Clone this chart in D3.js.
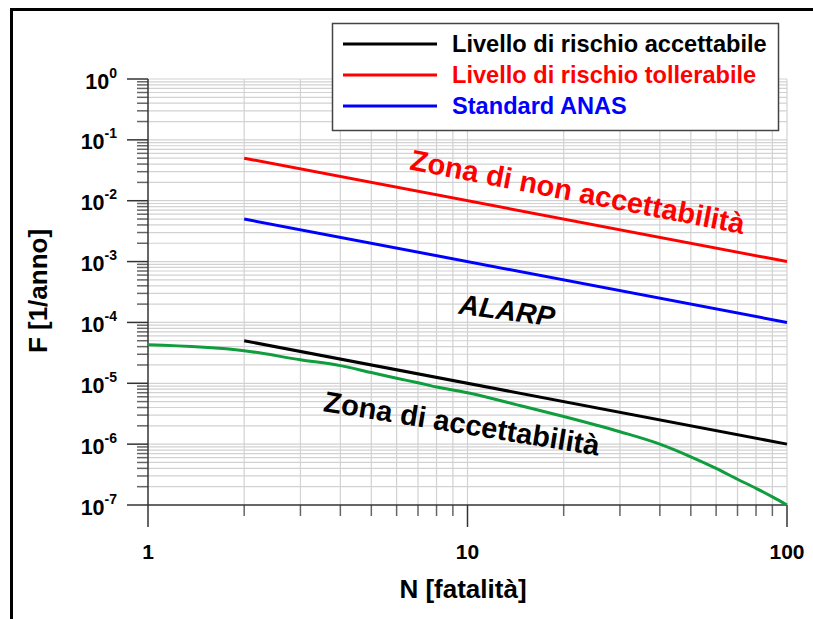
<!DOCTYPE html>
<html><head><meta charset="utf-8">
<script src="https://cdn.jsdelivr.net/npm/d3@7"></script>
<style>body{margin:0;background:#fff}svg{display:block}text{font-family:"Liberation Sans",Arial,sans-serif;font-weight:bold}</style>
</head><body>
<svg id="c" width="813" height="619"></svg>
<script>
// ---- data ----
const seriesNames = ["Livello di rischio accettabile","Livello di rischio tollerabile","Standard ANAS"];
const seriesColors = ["#000000","#ff0000","#0000ff"];
const criterionN = [2, 100];
const acceptableF = [5e-5, 1e-6];
const tolerableF = [5e-2, 1e-3];
const anasF = [5e-3, 1e-4];
const curveN = [1,2,3,4,5,6,7,8,10,15,20,30,40,50,60,70,80,90,100];
const curveF = [4.3e-5,3.43e-5,2.44e-5,1.95e-5,1.5e-5,1.21e-5,1.02e-5,8.7e-6,7.0e-6,4.15e-6,2.85e-6,1.6e-6,1.0e-6,6.2e-7,4.0e-7,2.65e-7,1.88e-7,1.36e-7,1.0e-7];
const xTickLabels = ["1","10","100"];
const xTickValues = [1,10,100];
const yTickExponents = [0,-1,-2,-3,-4,-5,-6,-7];
const annotations = [
  {text:"Zona di non accettabilità", N:6.55, F:0.033, angle:11, color:"#ff0000", size:29, italic:false},
  {text:"ALARP", N:9.34, F:1.4e-4, angle:7.7, color:"#000000", size:28, italic:true},
  {text:"Zona di accettabilità", N:3.52, F:3.5e-6, angle:9.2, color:"#000000", size:29, italic:false}
];
const xTitle = "N [fatalità]";
const yTitle = "F [1/anno]";

// ---- chart ----
const svg = d3.select("#c");
const x = d3.scaleLog().domain([1,100]).range([148,787]);
const y = d3.scaleLog().domain([1e-7,1]).range([505,79]);

// frame
svg.append("path").attr("d","M11.5,619 L11.5,9.5 L813,9.5").attr("fill","none").attr("stroke","#000").attr("stroke-width",3);

const xAll = x.ticks();
const yAll = y.ticks();
const g = svg.append("g");
// grid
g.selectAll(".vg").data(xAll.filter(d=>d>1)).enter().append("line")
  .attr("x1",d=>x(d)).attr("x2",d=>x(d)).attr("y1",y(1)).attr("y2",y(1e-7))
  .attr("stroke","#d2d2d2").attr("stroke-width",1.2);
g.selectAll(".hg").data(yAll.filter(d=>d>1e-7)).enter().append("line")
  .attr("y1",d=>y(d)).attr("y2",d=>y(d)).attr("x1",x(1)).attr("x2",x(100))
  .attr("stroke","#d2d2d2").attr("stroke-width",1.2);

// ticks
const isMajor = v => Math.abs(Math.log10(v)-Math.round(Math.log10(v)))<1e-6;
g.selectAll(".yt").data(yAll).enter().append("line")
  .attr("y1",d=>y(d)).attr("y2",d=>y(d)).attr("x1",d=>isMajor(d)?127:137).attr("x2",x(1))
  .attr("stroke",d=>isMajor(d)?"#333":"#666").attr("stroke-width",1.5);
g.selectAll(".xt").data(xAll).enter().append("line")
  .attr("x1",d=>x(d)).attr("x2",d=>x(d)).attr("y1",y(1e-7)).attr("y2",d=>isMajor(d)?527:516)
  .attr("stroke",d=>isMajor(d)?"#333":"#666").attr("stroke-width",1.5);
// axis lines
g.append("line").attr("x1",x(1)).attr("x2",x(1)).attr("y1",y(1)).attr("y2",y(1e-7)).attr("stroke","#333").attr("stroke-width",1.5);
g.append("line").attr("x1",x(1)).attr("x2",x(100)).attr("y1",y(1e-7)).attr("y2",y(1e-7)).attr("stroke","#333").attr("stroke-width",1.5);

// tick labels
const yl = g.selectAll(".yl").data(yTickExponents).enter().append("text")
  .attr("x",117).attr("y",d=>y(Math.pow(10,d))+9.5).attr("text-anchor","end").attr("fill","#000");
yl.append("tspan").attr("font-size",21.5).text("10");
yl.append("tspan").attr("font-size",14).attr("dy",-11).text(d=>String(d));
g.selectAll(".xl").data(xTickValues).enter().append("text")
  .attr("x",d=>x(d)).attr("y",559).attr("text-anchor","middle").attr("font-size",21).text((d,i)=>xTickLabels[i]);

// titles
svg.append("text").attr("x",463).attr("y",598).attr("text-anchor","middle").attr("font-size",26).text(xTitle);
svg.append("text").attr("transform","translate(47,291) rotate(-90)").attr("text-anchor","middle").attr("font-size",26).text(yTitle);

// lines
const line = d3.line().x(d=>x(d[0])).y(d=>y(d[1]));
const lineSets = [acceptableF, tolerableF, anasF];
lineSets.forEach((vals,i)=>{
  svg.append("path").datum(criterionN.map((n,j)=>[n,vals[j]])).attr("d",line)
    .attr("fill","none").attr("stroke",seriesColors[i]).attr("stroke-width",3);
});
svg.append("path").datum(curveN.map((n,j)=>[n,curveF[j]])).attr("d",line.curve(d3.curveMonotoneX))
  .attr("fill","none").attr("stroke","#0f9d3d").attr("stroke-width",3);

// annotations
svg.selectAll(".ann").data(annotations).enter().append("text")
  .attr("transform",d=>`translate(${x(d.N)},${y(d.F)}) rotate(${d.angle})`)
  .attr("fill",d=>d.color).attr("font-size",d=>d.size).attr("font-style",d=>d.italic?"italic":"normal")
  .text(d=>d.text);

// legend
const lg = svg.append("g");
lg.append("rect").attr("x",332.5).attr("y",23.5).attr("width",446).attr("height",107).attr("fill","#fff").attr("stroke","#444").attr("stroke-width",1.5);
seriesNames.forEach((nm,i)=>{
  const yy = 44 + i*31;
  lg.append("line").attr("x1",343).attr("x2",437).attr("y1",yy).attr("y2",yy).attr("stroke",seriesColors[i]).attr("stroke-width",3);
  lg.append("text").attr("x",452).attr("y",yy+8).attr("font-size",23.6).attr("fill",seriesColors[i]).text(nm);
});
</script>
</body></html>
